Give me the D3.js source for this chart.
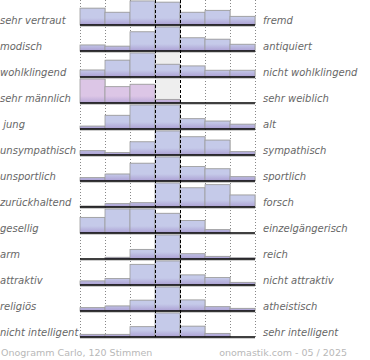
<!DOCTYPE html>
<html><head><meta charset="utf-8">
<script src="https://cdn.jsdelivr.net/npm/d3@7"></script>
<style>
html,body{margin:0;padding:0;background:#fff;}
svg{display:block;}
text{white-space:pre;}
</style></head>
<body>
<script>
// Left / right adjectives of each semantic-differential row
const leftLabels = ["sehr vertraut","modisch","wohlklingend","sehr männlich"," jung","unsympathisch","unsportlich","zurückhaltend","gesellig","arm","attraktiv","religiös","nicht intelligent"];
const rightLabels = ["fremd","antiquiert","nicht wohlklingend","sehr weiblich","alt","sympathisch","sportlich","forsch","einzelgängerisch","reich","nicht attraktiv","atheistisch","sehr intelligent"];
// 7-step scale, values relative to the row's maximum
const steps = [1,2,3,4,5,6,7];
const values = [
  [70,53,100,95,53,61,36],
  [25,20,80,100,55,49,28],
  [29,70,100,53,46,28,28],
  [100,68,78,15,0,0,0],
  [12,57,100,100,43,33,20],
  [18,10,55,100,76,62,14],
  [14,29,74,100,60,51,18],
  [4,14,18,100,80,93,50],
  [65,100,100,82,52,14,0],
  [0,7,40,100,22,11,5],
  [17,27,86,100,42,31,11],
  [14,21,45,100,46,18,11],
  [11,11,43,100,45,15,0]
];
const footerLeft = "Onogramm Carlo, 120 Stimmen";
const footerRight = "onomastik.com - 05 / 2025";

const W = 370, H = 360;
const svg = d3.select("body").append("svg").attr("width", W).attr("height", H);
const defs = svg.append("defs");

const x = d3.scaleBand().domain(steps).range([80, 255]).paddingInner(0).paddingOuter(0);
const y = d3.scaleBand().domain(d3.range(leftLabels.length)).range([-1, 337]).padding(0);
const barMax = 24;

const rowG = svg.append("g");

// gray neutral backgrounds in the middle column for rows that don't fill it
values.forEach((row, i) => {
  const base = y(i) + y.bandwidth();
  if (i === 2 || i === 3) {
    rowG.append("rect").attr("x", x(4)).attr("y", base - barMax).attr("width", x.bandwidth()).attr("height", barMax).attr("fill", "#eeeeee");
  }
});

// dotted grid lines
const gridG = svg.append("g");
const edges = steps.map(s => x(s)).concat([x(7) + x.bandwidth()]);
edges.forEach((ex, k) => {
  if (k === 3 || k === 4) return;
  gridG.append("line").attr("x1", ex + 0.5).attr("x2", ex + 0.5).attr("y1", 0).attr("y2", 337)
    .attr("stroke", "#888").attr("stroke-width", 1).attr("stroke-dasharray", "1,2");
});

values.forEach((row, i) => {
  const base = y(i) + y.bandwidth();
  const h = d3.scaleLinear().domain([0, d3.max(row)]).range([0, barMax]);
  const pink = i === 3;
  const gid = "g" + i;
  const grad = defs.append("linearGradient").attr("id", gid).attr("gradientUnits", "userSpaceOnUse")
    .attr("x1", 0).attr("x2", 0).attr("y1", base - 7).attr("y2", base);
  grad.append("stop").attr("offset", "0%").attr("stop-color", pink ? "#dcc6e6" : "#c5cae9");
  grad.append("stop").attr("offset", "100%").attr("stop-color", pink ? "#b7a6d6" : "#ab9fd3");
  const g = svg.append("g");
  row.forEach((v, j) => {
    const bh = h(v);
    if (bh <= 0) return;
    const bx = x(steps[j]);
    g.append("rect").attr("x", bx + 1).attr("y", base - bh - 0.5).attr("width", x.bandwidth()).attr("height", bh)
      .attr("fill", "#d8d8d8");
    g.append("rect").attr("x", bx).attr("y", base - bh).attr("width", x.bandwidth()).attr("height", bh)
      .attr("fill", "url(#" + gid + ")").attr("stroke", "#9c9c9c").attr("stroke-width", 0.8);
  });
  g.append("line").attr("x1", 80).attr("x2", 255).attr("y1", base + 1.4).attr("y2", base + 1.4)
    .attr("stroke", "#c8c8c8").attr("stroke-width", 1);
  g.append("line").attr("x1", 80).attr("x2", 255).attr("y1", base).attr("y2", base)
    .attr("stroke", "#000").attr("stroke-width", 1.6);
});

// dashed middle column borders
[edges[3], edges[4]].forEach(ex => {
  svg.append("line").attr("x1", ex + 0.5).attr("x2", ex + 0.5).attr("y1", 0).attr("y2", 337)
    .attr("stroke", "#000").attr("stroke-width", 1).attr("stroke-dasharray", "3,2");
});

// labels
const lab = svg.append("g").attr("font-family", "DejaVu Sans").attr("font-style", "italic")
  .attr("font-size", "10px").attr("fill", "#676767");
leftLabels.forEach((t, i) => {
  lab.append("text").attr("x", 0).attr("y", y(i) + y.bandwidth() - 1.5).text(t);
});
rightLabels.forEach((t, i) => {
  lab.append("text").attr("x", 263).attr("y", y(i) + y.bandwidth() - 1.5).text(t);
});

// footer
const ft = svg.append("g").attr("font-family", "DejaVu Sans").attr("font-size", "9.5px").attr("fill", "#b8b8b8");
ft.append("text").attr("x", 1).attr("y", 356).text(footerLeft);
ft.append("text").attr("x", 347).attr("y", 356).attr("text-anchor", "end").text(footerRight);
</script>
</body></html>
